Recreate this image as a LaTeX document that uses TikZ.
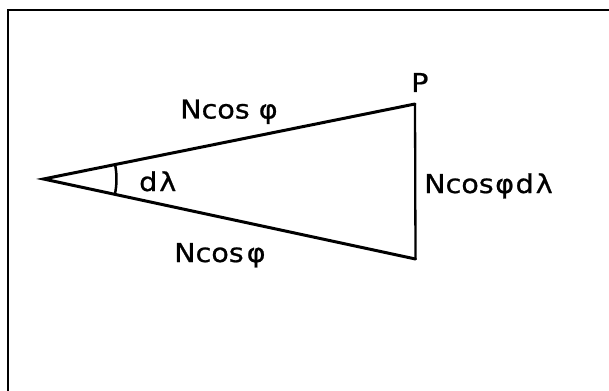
\documentclass[tikz,border=0pt]{standalone}
\usepackage{fontspec}
\setmainfont[FakeStretch=1.1,FakeBold=0.8]{DejaVu Sans}
\begin{document}
\begin{tikzpicture}[x=1pt,y=-1pt,
  lbl/.style={font=\fontsize{26}{30}\selectfont, inner sep=0pt, anchor=base west},
  edge/.style={line width=3pt, line join=miter, line cap=round},
  frame/.style={line width=1.8pt}]
\useasboundingbox (0,0) rectangle (609,390);
\begin{scope}
  \clip (0,0) rectangle (609,390);
  \draw[frame] (8,400) -- (8,10) -- (620,10);
\end{scope}
\coordinate (A) at (43.5,179);
\coordinate (P) at (415,104);
\coordinate (B) at (415.5,259);
\draw[edge] (P) -- (A) -- (B);
\draw[edge, line width=2.3pt] (P) -- (B);
\draw[edge, line width=2.5pt] (A) ++(-11.4:73) arc[start angle=-11.4, end angle=12.1, radius=73];
\node[lbl] (tP) at (411,92) {P};
\node[lbl] (tTop) at (180,118.5) {Ncos φ};
\node[lbl] (tBot) at (174,262) {Ncos\kern3pt φ};
\node[lbl] (tR) at (424,193) {Ncos\kern1.5pt φ\kern1.5pt d\kern2pt λ};
\node[lbl] (tD) at (139,191) {d\kern2pt λ};
\end{tikzpicture}
\end{document}
